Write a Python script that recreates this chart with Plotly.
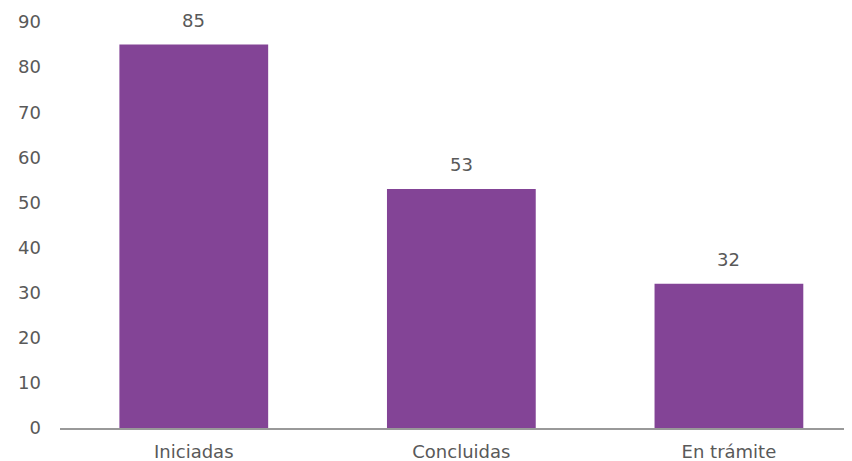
import plotly.graph_objects as go

# ── Data ─────────────────────────────────────────────────────────────────────
categories = ["Iniciadas", "Concluidas", "En trámite"]
values = [85, 53, 32]
y_ticks = [0, 10, 20, 30, 40, 50, 60, 70, 80, 90]

# ── Theme ────────────────────────────────────────────────────────────────────
_BAR = "#834496"
_TEXT = "#595959"
_AXIS = "#999999"
_FONT = "DejaVu Sans, Open Sans, sans-serif"

fig = go.Figure(go.Bar(
    x=categories,
    y=values,
    width=0.556,
    marker=dict(color=_BAR, line=dict(width=0)),
    hoverinfo="x+y",
))

# value labels sit a bit higher above the bars than plotly's "outside" text
for cat, val in zip(categories, values):
    fig.add_annotation(
        x=cat, y=val, text=str(val),
        showarrow=False, yanchor="bottom", yshift=12,
        font=dict(size=18, color=_TEXT, family=_FONT),
    )

# page body has an 8px margin, so the figure is sized/offset to land at the same spot
fig.update_layout(
    width=844,
    height=453,
    paper_bgcolor="white",
    plot_bgcolor="white",
    margin=dict(l=52, r=0, t=14, b=33),
    font=dict(family=_FONT, size=18, color=_TEXT),
    showlegend=False,
    xaxis=dict(
        range=[-0.5, 2.46],
        showline=True, linecolor=_AXIS, linewidth=2,
        showgrid=False, ticks="", zeroline=False,
        ticklabelstandoff=6,
        tickfont=dict(size=18, color=_TEXT),
    ),
    yaxis=dict(
        range=[0, 90],
        tickvals=y_ticks,
        showgrid=False, showline=False, zeroline=False, ticks="",
        ticklabelstandoff=18,
        tickfont=dict(size=18, color=_TEXT),
    ),
)

fig.write_html("out.html")
